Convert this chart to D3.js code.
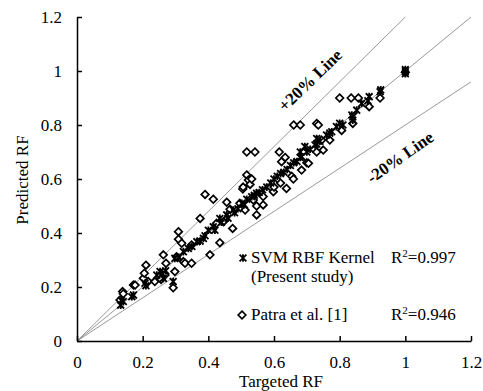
<!DOCTYPE html>
<html>
<head>
<meta charset="utf-8">
<script src="https://cdn.jsdelivr.net/npm/d3@7"></script>
<style>
  body { margin: 0; background: #fff; }
  svg { display: block; font-family: "Liberation Serif", "Times New Roman", serif; }
</style>
</head>
<body>
<div id="chart"></div>
<script>
// axis ticks
const xTicks = [0, 0.2, 0.4, 0.6, 0.8, 1, 1.2];
const yTicks = [0, 0.2, 0.4, 0.6, 0.8, 1, 1.2];

// reference lines: y = slope * x
const guideSlopes = [1, 1.2, 0.8];

// SVM RBF Kernel (present study) [targeted, predicted]
const svmPoints = [
  [0.133,0.133],[0.141,0.146],[0.135,0.15],[0.167,0.164],[0.172,0.17],[0.207,0.214],[0.21,0.205],
  [0.243,0.244],[0.253,0.257],[0.263,0.232],[0.26,0.25],[0.27,0.26],[0.293,0.22],[0.298,0.306],
  [0.31,0.31],[0.324,0.331],[0.339,0.343],[0.35,0.35],[0.365,0.368],[0.375,0.37],[0.385,0.38],
  [0.39,0.39],[0.40,0.41],[0.415,0.423],[0.42,0.41],[0.435,0.454],[0.44,0.44],[0.456,0.467],
  [0.46,0.455],[0.476,0.485],[0.48,0.475],[0.49,0.49],[0.502,0.51],[0.51,0.505],[0.517,0.525],
  [0.532,0.534],[0.54,0.54],[0.547,0.547],[0.555,0.55],[0.565,0.56],[0.578,0.57],[0.59,0.585],
  [0.60,0.60],[0.61,0.61],[0.62,0.62],[0.63,0.625],[0.64,0.635],[0.65,0.65],[0.66,0.66],
  [0.67,0.665],[0.68,0.68],[0.684,0.683],[0.68,0.70],[0.694,0.72],[0.70,0.70],[0.71,0.71],
  [0.725,0.726],[0.73,0.73],[0.73,0.75],[0.74,0.74],[0.76,0.763],[0.77,0.77],[0.776,0.775],
  [0.79,0.794],[0.80,0.806],[0.81,0.80],[0.837,0.837],[0.84,0.818],[0.84,0.83],[0.852,0.855],
  [0.867,0.88],[0.886,0.89],[0.89,0.905],[0.923,0.923],[0.925,0.93],[1.0,0.997],[1.0,0.99],[1.0,1.005]
];

// Patra et al. [1] [targeted, predicted]
const patraPoints = [
  [0.131,0.152],[0.139,0.183],[0.141,0.175],[0.172,0.207],[0.177,0.207],[0.202,0.232],[0.205,0.251],
  [0.21,0.281],[0.217,0.22],[0.237,0.22],[0.256,0.228],[0.268,0.244],[0.263,0.319],[0.271,0.288],
  [0.293,0.197],[0.298,0.257],[0.303,0.312],[0.309,0.405],[0.309,0.377],[0.319,0.362],[0.324,0.294],
  [0.329,0.288],[0.349,0.288],[0.349,0.356],[0.375,0.454],[0.39,0.543],[0.405,0.319],[0.415,0.525],
  [0.425,0.436],[0.435,0.364],[0.446,0.442],[0.456,0.514],[0.466,0.488],[0.474,0.417],[0.496,0.51],
  [0.505,0.563],[0.506,0.57],[0.512,0.485],[0.517,0.615],[0.517,0.70],[0.522,0.596],[0.527,0.58],
  [0.532,0.60],[0.537,0.522],[0.542,0.70],[0.547,0.50],[0.547,0.467],[0.567,0.504],[0.567,0.535],
  [0.598,0.553],[0.60,0.57],[0.616,0.70],[0.62,0.585],[0.623,0.664],[0.634,0.68],[0.638,0.565],
  [0.654,0.61],[0.659,0.60],[0.66,0.80],[0.68,0.80],[0.684,0.633],[0.70,0.66],[0.705,0.658],
  [0.73,0.70],[0.73,0.806],[0.735,0.80],[0.745,0.744],[0.75,0.707],[0.77,0.744],[0.806,0.78],
  [0.80,0.90],[0.835,0.90],[0.84,0.806],[0.857,0.90],[0.89,0.868],[0.923,0.90],[1.0,0.995]
];

const width = 483, height = 391;
const margin = { top: 17, right: 12, bottom: 50, left: 77 };

const svg = d3.select("#chart").append("svg")
  .attr("width", width)
  .attr("height", height);

const x = d3.scaleLinear().domain([0, 1.2]).range([margin.left, width - margin.right]);
const y = d3.scaleLinear().domain([0, 1.2]).range([height - margin.bottom, margin.top]);

// guide lines
svg.append("g")
  .selectAll("line")
  .data(guideSlopes)
  .join("line")
  .attr("x1", x(0)).attr("y1", y(0))
  .attr("x2", s => x(Math.min(1.2, 1.2 / s)))
  .attr("y2", s => y(s * Math.min(1.2, 1.2 / s)))
  .attr("stroke", "#7f7f7f")
  .attr("stroke-width", 0.8);

// axes
const styleAxis = g => g
  .attr("font-family", null)
  .attr("font-size", 17)
  .call(g => g.selectAll("text").attr("fill", "#000"));

const xAxis = g => g
  .attr("transform", `translate(0,${y(0)})`)
  .call(d3.axisBottom(x).tickValues(xTicks).tickFormat(d => String(d))
    .tickSizeInner(-5).tickSizeOuter(0).tickPadding(15))
  .call(styleAxis);

const yAxis = g => g
  .attr("transform", `translate(${x(0)},0)`)
  .call(d3.axisLeft(y).tickValues(yTicks).tickFormat(d => String(d))
    .tickSizeInner(-5).tickSizeOuter(0).tickPadding(15))
  .call(styleAxis);

svg.append("g").call(xAxis);
svg.append("g").call(yAxis);
svg.selectAll(".domain, .tick line").attr("stroke", "#000").attr("stroke-width", 1.5);

// markers
const diamond = "M0,-3.8L3.8,0L0,3.8L-3.8,0Z";
const star = "M-3.4,-3.4L3.4,3.4M-3.4,3.4L3.4,-3.4M0,-3.8L0,3.8";

svg.append("g")
  .selectAll("path")
  .data(patraPoints)
  .join("path")
  .attr("transform", d => `translate(${x(d[0])},${y(d[1])})`)
  .attr("d", diamond)
  .attr("fill", "#fff")
  .attr("stroke", "#000")
  .attr("stroke-width", 1.7);

svg.append("g")
  .selectAll("path")
  .data(svmPoints)
  .join("path")
  .attr("transform", d => `translate(${x(d[0])},${y(d[1])})`)
  .attr("d", star)
  .attr("fill", "none")
  .attr("stroke", "#000")
  .attr("stroke-width", 1.8);

// line labels
svg.append("text")
  .attr("transform", "translate(310,80) rotate(-44)")
  .attr("text-anchor", "middle")
  .attr("dy", "0.35em")
  .attr("font-size", 17)
  .attr("font-weight", "bold")
  .text("+20% Line");

svg.append("text")
  .attr("transform", "translate(400,157) rotate(-35)")
  .attr("text-anchor", "middle")
  .attr("dy", "0.35em")
  .attr("font-size", 17)
  .attr("font-weight", "bold")
  .text("-20% Line");

// legend
const legend = svg.append("g").attr("font-size", 17);

legend.append("path")
  .attr("transform", "translate(243,258)")
  .attr("d", star)
  .attr("fill", "none").attr("stroke", "#000").attr("stroke-width", 1.8);
legend.append("text").attr("x", 251).attr("y", 263).text("SVM RBF Kernel");
legend.append("text").attr("x", 251).attr("y", 282).text("(Present study)");
const r1 = legend.append("text").attr("x", 391).attr("y", 263);
r1.append("tspan").text("R");
r1.append("tspan").attr("font-size", 11).attr("dy", -6).text("2");
r1.append("tspan").attr("dy", 6).text("=0.997");

legend.append("path")
  .attr("transform", "translate(242,315)")
  .attr("d", diamond)
  .attr("fill", "#fff").attr("stroke", "#000").attr("stroke-width", 1.7);
legend.append("text").attr("x", 251).attr("y", 320).text("Patra et al. [1]");
const r2 = legend.append("text").attr("x", 391).attr("y", 320);
r2.append("tspan").text("R");
r2.append("tspan").attr("font-size", 11).attr("dy", -6).text("2");
r2.append("tspan").attr("dy", 6).text("=0.946");

// axis titles
svg.append("text")
  .attr("x", 281).attr("y", 387)
  .attr("text-anchor", "middle")
  .attr("font-size", 17)
  .text("Targeted RF");

svg.append("text")
  .attr("transform", "translate(28,180) rotate(-90)")
  .attr("text-anchor", "middle")
  .attr("font-size", 17)
  .text("Predicted RF");
</script>
</body>
</html>
